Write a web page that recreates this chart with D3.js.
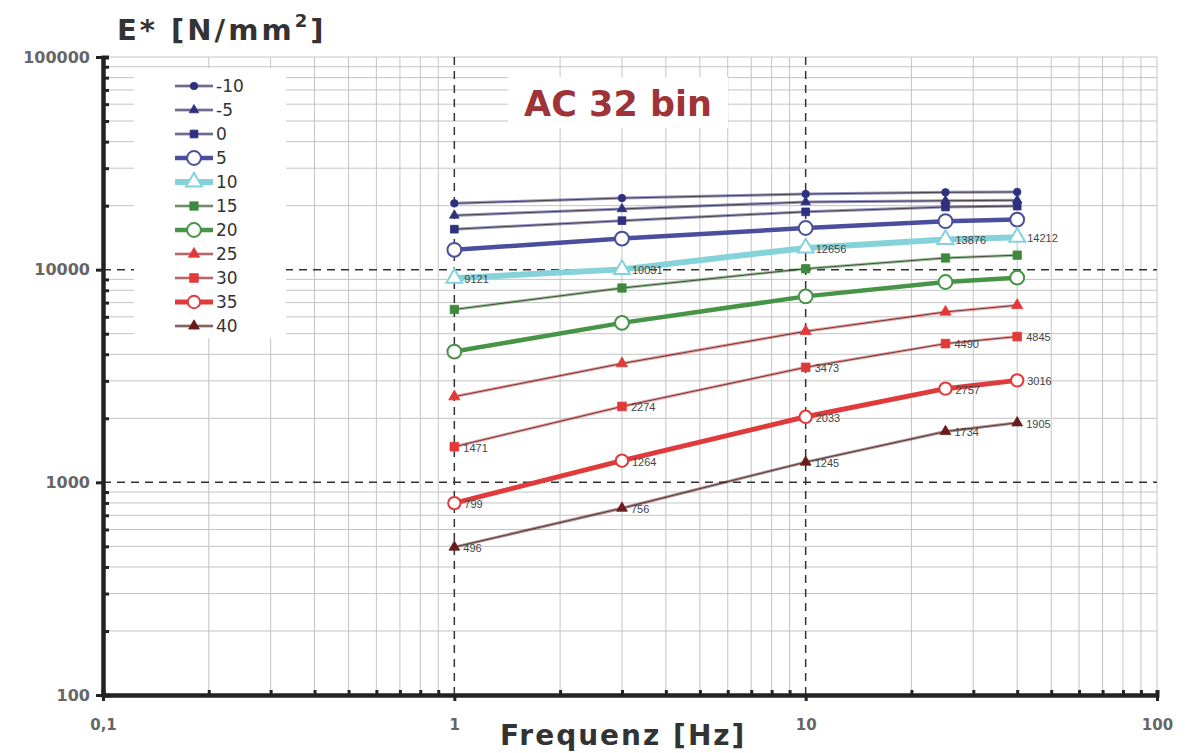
<!DOCTYPE html>
<html>
<head>
<meta charset="utf-8">
<script src="https://cdn.jsdelivr.net/npm/d3@7"></script>
<style>
  body { margin: 0; background: #fff; }
  svg { display: block; font-family: "DejaVu Sans", sans-serif; }
</style>
</head>
<body>
<svg id="chart" width="1185" height="753"></svg>
<script>
// frequencies [Hz]
const freqs = [1, 3, 10, 25, 40]
// temperature series [°C]
const temps = ['-10', '-5', '0', '5', '10', '15', '20', '25', '30', '35', '40']
// E* [N/mm²] per temperature, same order as freqs
const sM10 = [20500, 21700, 22700, 23100, 23200]
const sM5 = [18000, 19300, 20800, 21100, 21200]
const s0 = [15500, 17000, 18700, 19700, 19900]
const s5 = [12400, 14000, 15700, 16900, 17200]
const s10 = [9121, 10031, 12656, 13876, 14212]
const s15 = [6500, 8200, 10100, 11350, 11700]
const s20 = [4120, 5620, 7490, 8750, 9170]
const s25 = [2530, 3620, 5130, 6330, 6800]
const s30 = [1471, 2274, 3473, 4490, 4845]
const s35 = [799, 1264, 2033, 2757, 3016]
const s40 = [496, 756, 1245, 1734, 1905]
const xTickLabels = ['0,1', '1', '10', '100']
const yTickLabels = ['100', '1000', '10000', '100000']

const values = [sM10, sM5, s0, s5, s10, s15, s20, s25, s30, s35, s40]

// look of each series: color, width, symbol, open marker, labelled
const navy = '#2e3080'
const styles = [
  { c: navy, w: 1, sym: d3.symbolCircle, size: 45, open: false },
  { c: navy, w: 1, sym: d3.symbolTriangle, size: 40, open: false },
  { c: navy, w: 1, sym: d3.symbolSquare, size: 60, open: false },
  { c: '#4a4e9c', w: 4.5, sym: d3.symbolCircle, size: 150, open: true },
  { c: '#86d2da', w: 6, sym: d3.symbolTriangle, size: 110, open: true, label: true },
  { c: '#3c8a3c', w: 1, sym: d3.symbolSquare, size: 70, open: false },
  { c: '#479447', w: 4.5, sym: d3.symbolCircle, size: 150, open: true },
  { c: '#e23838', w: 1, sym: d3.symbolTriangle, size: 55, open: false },
  { c: '#e23838', w: 1, sym: d3.symbolSquare, size: 75, open: false, label: true },
  { c: '#e03a3a', w: 5, sym: d3.symbolCircle, size: 120, open: true, label: true },
  { c: '#6a1c1c', w: 1, sym: d3.symbolTriangle, size: 50, open: false, label: true },
]

const svg = d3.select('#chart')
const x = d3.scaleLog().domain([0.1, 100]).range([103, 1157])
const y = d3.scaleLog().domain([100, 100000]).range([695, 57])

const minorX = []
for (let p = -1; p < 2; p++) for (let k = 2; k < 10; k++) minorX.push(k * Math.pow(10, p))
const minorY = []
for (let p = 2; p < 5; p++) for (let k = 2; k < 10; k++) minorY.push(k * Math.pow(10, p))

// grid
let grid = svg.append('g')
grid.selectAll('line.vx')
  .data(minorX.concat([100]))
  .join('line')
  .attr('x1', d => x(d)).attr('x2', d => x(d))
  .attr('y1', y(100000)).attr('y2', y(100))
  .attr('stroke', '#c4c4c4').attr('stroke-width', 1)
grid.selectAll('line.hy')
  .data(minorY.concat([100000]))
  .join('line')
  .attr('y1', d => y(d)).attr('y2', d => y(d))
  .attr('x1', x(0.1)).attr('x2', x(100))
  .attr('stroke', '#c4c4c4').attr('stroke-width', 1)
grid.selectAll('line.dx')
  .data([1, 10])
  .join('line')
  .attr('x1', d => x(d)).attr('x2', d => x(d))
  .attr('y1', y(100000)).attr('y2', y(100))
  .attr('stroke', '#333').attr('stroke-width', 1.5).attr('stroke-dasharray', '8,6')
grid.selectAll('line.dy')
  .data([1000, 10000])
  .join('line')
  .attr('y1', d => y(d)).attr('y2', d => y(d))
  .attr('x1', x(0.1)).attr('x2', x(100))
  .attr('stroke', '#333').attr('stroke-width', 1.5).attr('stroke-dasharray', '8,6')

// title box + legend box cover the grid
svg.append('rect').attr('x', 508).attr('y', 77).attr('width', 220).attr('height', 51).attr('fill', '#fff')
svg.append('rect').attr('x', 134).attr('y', 68).attr('width', 152).attr('height', 270).attr('fill', '#fff')

svg.append('text')
  .attr('x', 618).attr('y', 116)
  .attr('text-anchor', 'middle')
  .attr('font-size', 35).attr('font-weight', 'bold')
  .attr('fill', '#9e3338')
  .text('AC 32 bin')

// axes
let axisX = svg.append('g').attr('transform', `translate(0,${y(100)})`)
axisX.call(d3.axisBottom(x).tickValues(minorX).tickSize(-5).tickFormat(''))
axisX.append('g').call(d3.axisBottom(x).tickValues([0.1, 1, 10, 100]).tickSize(6).tickSizeOuter(0)
  .tickFormat((d, i) => xTickLabels[i]))
axisX.selectAll('path.domain').attr('stroke', '#222').attr('stroke-width', 4)
axisX.selectAll('line').attr('stroke', '#222').attr('stroke-width', 3)
axisX.selectAll('text')
  .attr('font-size', 15).attr('font-weight', 'bold').attr('fill', '#666')
  .attr('font-family', '"DejaVu Sans", sans-serif')
  .attr('dy', '1.75em')

let axisY = svg.append('g').attr('transform', `translate(${x(0.1)},0)`)
axisY.call(d3.axisLeft(y).tickValues(minorY).tickSize(-6).tickFormat(''))
axisY.append('g').call(d3.axisLeft(y).tickValues([100, 1000, 10000, 100000]).tickSize(7).tickSizeOuter(0)
  .tickFormat((d, i) => yTickLabels[i]))
axisY.selectAll('path.domain').attr('stroke', '#222').attr('stroke-width', 4)
axisY.selectAll('line').attr('stroke', '#222').attr('stroke-width', 3)
axisY.selectAll('text')
  .attr('font-size', 16).attr('font-weight', 'bold').attr('fill', '#666')
  .attr('font-family', '"DejaVu Sans", sans-serif')
  .attr('x', -13)

// axis titles
let yTitle = svg.append('text')
  .attr('x', 117).attr('y', 40)
  .attr('font-size', 29).attr('font-weight', 'bold').attr('fill', '#333')
  .attr('letter-spacing', 3)
yTitle.append('tspan').text('E* [N/mm')
yTitle.append('tspan').attr('font-size', 18).attr('dy', -13).text('2')
yTitle.append('tspan').attr('dy', 13).text(']')

svg.append('text')
  .attr('x', 500).attr('y', 745)
  .attr('font-size', 28).attr('font-weight', 'bold').attr('fill', '#333')
  .attr('letter-spacing', 2)
  .text('Frequenz [Hz]')

// series
let line = d3.line().x(d => x(d.f)).y(d => y(d.v))
let plot = svg.append('g')
values.forEach((vals, i) => {
  let st = styles[i]
  let pts = vals.map((v, j) => ({ f: freqs[j], v }))
  let g = plot.append('g')
  if (st.w < 2) {
    g.append('path').datum(pts).attr('d', line)
      .attr('fill', 'none').attr('stroke', st.c).attr('stroke-opacity', 0.5).attr('stroke-width', 3)
    g.append('path').datum(pts).attr('d', line)
      .attr('fill', 'none').attr('stroke', '#3a2a2a').attr('stroke-width', 0.8)
  } else {
    g.append('path').datum(pts).attr('d', line)
      .attr('fill', 'none').attr('stroke', st.c).attr('stroke-width', st.w)
  }
  g.selectAll('path.m')
    .data(pts)
    .join('path')
    .attr('transform', d => `translate(${x(d.f)},${y(d.v)})`)
    .attr('d', d3.symbol().type(st.sym).size(st.size))
    .attr('fill', st.open ? '#fff' : st.c)
    .attr('stroke', st.c).attr('stroke-width', st.open ? 2 : 0.8)
  if (st.label) {
    g.selectAll('text')
      .data(pts)
      .join('text')
      .attr('x', d => x(d.f) + (st.open ? 10 : 9))
      .attr('y', d => y(d.v) + 1)
      .attr('dy', '0.35em')
      .attr('font-size', 11).attr('fill', '#444')
      .attr('font-family', 'Arial, "Liberation Sans", sans-serif')
      .text(d => d.v)
  }
})

// legend
let legend = svg.append('g')
temps.forEach((t, i) => {
  let st = styles[i]
  let ly = 86 + i * 24
  let row = legend.append('g').attr('transform', `translate(0,${ly})`)
  if (st.w < 2) {
    row.append('line').attr('x1', 175).attr('x2', 213)
      .attr('stroke', st.c).attr('stroke-opacity', 0.5).attr('stroke-width', 3)
    row.append('line').attr('x1', 175).attr('x2', 213)
      .attr('stroke', '#3a2a2a').attr('stroke-width', 0.8)
  } else {
    row.append('line').attr('x1', 175).attr('x2', 213)
      .attr('stroke', st.c).attr('stroke-width', st.w)
  }
  row.append('path')
    .attr('transform', 'translate(194,0)')
    .attr('d', d3.symbol().type(st.sym).size(st.size))
    .attr('fill', st.open ? '#fff' : st.c)
    .attr('stroke', st.c).attr('stroke-width', st.open ? 2 : 0.8)
  row.append('text')
    .attr('x', 216).attr('dy', '0.36em')
    .attr('font-size', 17).attr('fill', '#333')
    .text(t)
})
</script>
</body>
</html>
